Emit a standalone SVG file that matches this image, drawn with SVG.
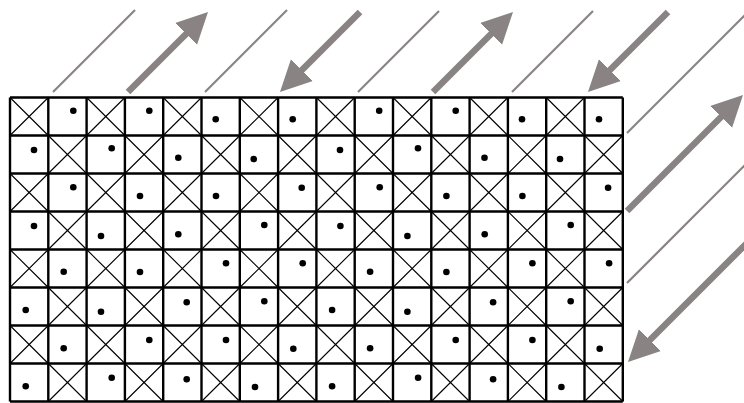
<svg xmlns="http://www.w3.org/2000/svg" xmlns:xlink="http://www.w3.org/1999/xlink" width="744" height="403" viewBox="0 0 744 403">
<style>
.grid{fill:none;stroke:#000;stroke-width:2.4}
.xc{fill:none;stroke:#000;stroke-width:1.1}
.dot{fill:#000}
.thin{stroke:#898483;stroke-width:2.2;fill:none}
.thick{stroke:#898483;stroke-width:6.5;fill:none}
</style>
<defs>
<path id="x" class="xc" d="M0,0L38.3,38M38.3,0L0,38"/>
<marker id="head" markerUnits="userSpaceOnUse" viewBox="0 -17 34 34" markerWidth="34" markerHeight="34" refX="1" refY="0" orient="auto">
<path d="M0,-15.5L31,0L0,15.5Z" fill="#898483"/>
</marker>
</defs>
<rect width="744" height="403" fill="#fff"/>
<g id="crosses">
<use href="#x" x="10" y="97.5"/><use href="#x" x="86.6" y="97.5"/><use href="#x" x="163.2" y="97.5"/><use href="#x" x="239.8" y="97.5"/><use href="#x" x="316.4" y="97.5"/><use href="#x" x="393" y="97.5"/><use href="#x" x="469.6" y="97.5"/><use href="#x" x="546.2" y="97.5"/>
<use href="#x" x="48.3" y="135.5"/><use href="#x" x="124.9" y="135.5"/><use href="#x" x="201.5" y="135.5"/><use href="#x" x="278.1" y="135.5"/><use href="#x" x="354.7" y="135.5"/><use href="#x" x="431.3" y="135.5"/><use href="#x" x="507.9" y="135.5"/><use href="#x" x="584.5" y="135.5"/>
<use href="#x" x="10" y="173.5"/><use href="#x" x="86.6" y="173.5"/><use href="#x" x="163.2" y="173.5"/><use href="#x" x="239.8" y="173.5"/><use href="#x" x="316.4" y="173.5"/><use href="#x" x="393" y="173.5"/><use href="#x" x="469.6" y="173.5"/><use href="#x" x="546.2" y="173.5"/>
<use href="#x" x="48.3" y="211.5"/><use href="#x" x="124.9" y="211.5"/><use href="#x" x="201.5" y="211.5"/><use href="#x" x="278.1" y="211.5"/><use href="#x" x="354.7" y="211.5"/><use href="#x" x="431.3" y="211.5"/><use href="#x" x="507.9" y="211.5"/><use href="#x" x="584.5" y="211.5"/>
<use href="#x" x="10" y="249.5"/><use href="#x" x="86.6" y="249.5"/><use href="#x" x="163.2" y="249.5"/><use href="#x" x="239.8" y="249.5"/><use href="#x" x="316.4" y="249.5"/><use href="#x" x="393" y="249.5"/><use href="#x" x="469.6" y="249.5"/><use href="#x" x="546.2" y="249.5"/>
<use href="#x" x="48.3" y="287.5"/><use href="#x" x="124.9" y="287.5"/><use href="#x" x="201.5" y="287.5"/><use href="#x" x="278.1" y="287.5"/><use href="#x" x="354.7" y="287.5"/><use href="#x" x="431.3" y="287.5"/><use href="#x" x="507.9" y="287.5"/><use href="#x" x="584.5" y="287.5"/>
<use href="#x" x="10" y="325.5"/><use href="#x" x="86.6" y="325.5"/><use href="#x" x="163.2" y="325.5"/><use href="#x" x="239.8" y="325.5"/><use href="#x" x="316.4" y="325.5"/><use href="#x" x="393" y="325.5"/><use href="#x" x="469.6" y="325.5"/><use href="#x" x="546.2" y="325.5"/>
<use href="#x" x="48.3" y="363.5"/><use href="#x" x="124.9" y="363.5"/><use href="#x" x="201.5" y="363.5"/><use href="#x" x="278.1" y="363.5"/><use href="#x" x="354.7" y="363.5"/><use href="#x" x="431.3" y="363.5"/><use href="#x" x="507.9" y="363.5"/><use href="#x" x="584.5" y="363.5"/>
</g>
<g id="grid" class="grid">
<path d="M10,97.5V401.5M48.3,97.5V401.5M86.6,97.5V401.5M124.9,97.5V401.5M163.2,97.5V401.5M201.5,97.5V401.5M239.8,97.5V401.5M278.1,97.5V401.5M316.4,97.5V401.5M354.7,97.5V401.5M393,97.5V401.5M431.3,97.5V401.5M469.6,97.5V401.5M507.9,97.5V401.5M546.2,97.5V401.5M584.5,97.5V401.5M622.8,97.5V401.5"/>
<path d="M10,97.5H622.8M10,135.5H622.8M10,173.5H622.8M10,211.5H622.8M10,249.5H622.8M10,287.5H622.8M10,325.5H622.8M10,363.5H622.8M10,401.5H622.8"/>
</g>
<g id="dots" class="dot">
<circle cx="73.3" cy="110.7" r="3.3"/><circle cx="149.3" cy="110.7" r="3.3"/><circle cx="215.7" cy="119.3" r="3.3"/><circle cx="292.7" cy="119.3" r="3.3"/><circle cx="379.2" cy="110.7" r="3.3"/><circle cx="455.7" cy="110.7" r="3.3"/><circle cx="522" cy="119.3" r="3.3"/><circle cx="599" cy="119.3" r="3.3"/>
<circle cx="34" cy="150" r="3.3"/><circle cx="111.7" cy="148.3" r="3.3"/><circle cx="178.3" cy="157.7" r="3.3"/><circle cx="253.7" cy="159" r="3.3"/><circle cx="340" cy="150" r="3.3"/><circle cx="418" cy="148.3" r="3.3"/><circle cx="484.5" cy="157.7" r="3.3"/><circle cx="560" cy="159" r="3.3"/>
<circle cx="73.3" cy="187.3" r="3.3"/><circle cx="140" cy="196" r="3.3"/><circle cx="216" cy="196" r="3.3"/><circle cx="301.7" cy="187.7" r="3.3"/><circle cx="379.7" cy="187.3" r="3.3"/><circle cx="446.4" cy="196" r="3.3"/><circle cx="522.4" cy="196" r="3.3"/><circle cx="608.1" cy="187.7" r="3.3"/>
<circle cx="34" cy="226" r="3.3"/><circle cx="101" cy="236" r="3.3"/><circle cx="178.3" cy="234.3" r="3.3"/><circle cx="264.3" cy="225" r="3.3"/><circle cx="340.4" cy="226" r="3.3"/><circle cx="407.4" cy="236" r="3.3"/><circle cx="484.7" cy="234.3" r="3.3"/><circle cx="570.7" cy="225" r="3.3"/>
<circle cx="63.7" cy="271.7" r="3.3"/><circle cx="140" cy="272" r="3.3"/><circle cx="226" cy="263.3" r="3.3"/><circle cx="302.7" cy="263.3" r="3.3"/><circle cx="370.1" cy="271.7" r="3.3"/><circle cx="446.4" cy="272" r="3.3"/><circle cx="532.4" cy="263.3" r="3.3"/><circle cx="609.1" cy="263.3" r="3.3"/>
<circle cx="25.7" cy="310" r="3.3"/><circle cx="101" cy="311.7" r="3.3"/><circle cx="186.7" cy="302.3" r="3.3"/><circle cx="264.3" cy="301.3" r="3.3"/><circle cx="332.1" cy="310" r="3.3"/><circle cx="407.4" cy="311.7" r="3.3"/><circle cx="493.1" cy="302.3" r="3.3"/><circle cx="570.7" cy="301.3" r="3.3"/>
<circle cx="63.7" cy="348.3" r="3.3"/><circle cx="149.3" cy="340" r="3.3"/><circle cx="226" cy="340" r="3.3"/><circle cx="293.3" cy="348.7" r="3.3"/><circle cx="370.1" cy="348.3" r="3.3"/><circle cx="455.7" cy="340" r="3.3"/><circle cx="532.4" cy="340" r="3.3"/><circle cx="599.7" cy="348.7" r="3.3"/>
<circle cx="25.7" cy="386.3" r="3.3"/><circle cx="111.7" cy="377.7" r="3.3"/><circle cx="186.7" cy="379.3" r="3.3"/><circle cx="255" cy="387" r="3.3"/><circle cx="332.1" cy="386.3" r="3.3"/><circle cx="418.1" cy="377.7" r="3.3"/><circle cx="493.1" cy="379.3" r="3.3"/><circle cx="561.4" cy="387" r="3.3"/>
</g>
<g id="connectors">
<line class="thin" x1="53" y1="92" x2="135" y2="10"/>
<line class="thin" x1="205" y1="92" x2="287" y2="10"/>
<line class="thin" x1="358" y1="92" x2="439" y2="11"/>
<line class="thin" x1="512" y1="92" x2="593" y2="11"/>
<line class="thin" x1="627" y1="133" x2="746" y2="14"/>
<line class="thin" x1="627" y1="283" x2="746" y2="164"/>
<line class="thick" x1="128" y1="92" x2="186.8" y2="33.2" marker-end="url(#head)"/>
<line class="thick" x1="360" y1="12" x2="301.2" y2="70.8" marker-end="url(#head)"/>
<line class="thick" x1="433" y1="92" x2="491.8" y2="33.2" marker-end="url(#head)"/>
<line class="thick" x1="668" y1="12" x2="609.2" y2="70.8" marker-end="url(#head)"/>
<line class="thick" x1="627" y1="211" x2="721.8" y2="116.2" marker-end="url(#head)"/>
<line class="thick" x1="746" y1="244" x2="649.2" y2="340.8" marker-end="url(#head)"/>
</g>
</svg>
